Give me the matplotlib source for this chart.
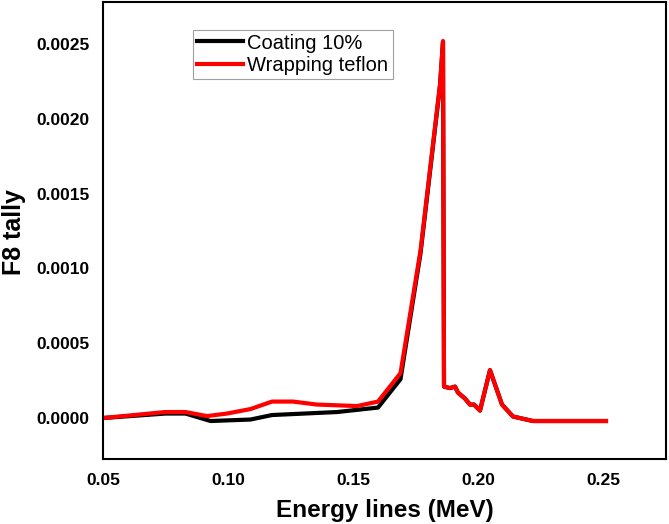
import matplotlib
matplotlib.use("Agg")
import matplotlib.pyplot as plt

plt.rcParams['font.family'] = ['Liberation Sans', 'DejaVu Sans']

# Coating 10% (black)
coat_x = [0.05, 0.075, 0.083, 0.093, 0.109, 0.1176, 0.1436, 0.16, 0.169, 0.177, 0.1848, 0.186,
          0.1864, 0.1888, 0.1908, 0.192, 0.1948, 0.1968, 0.1984, 0.2008, 0.2048, 0.2096, 0.214,
          0.222, 0.2512]
coat_y = [0.0, 0.00003, 0.00003, -0.00002, -0.00001, 0.00002, 0.00004, 0.00007, 0.00026, 0.00110,
          0.00222, 0.00251, 0.00021, 0.0002, 0.00021, 0.00017, 0.00013, 0.00009, 0.00009, 0.00005,
          0.00032, 0.00009, 0.00001, -0.00002, -0.00002]

# Wrapping teflon (red)
wrap_x = [0.05, 0.0748, 0.083, 0.0916, 0.0996, 0.109, 0.1176, 0.126, 0.1356, 0.1516, 0.16, 0.169,
          0.177, 0.1848, 0.186, 0.1864, 0.1888, 0.1908, 0.192, 0.1948, 0.1968, 0.1984, 0.2008,
          0.2048, 0.2096, 0.214, 0.222, 0.2512]
wrap_y = [0.0, 0.00004, 0.00004, 0.000013, 0.00003, 0.00006, 0.00011, 0.00011, 0.00009, 0.00008,
          0.00011, 0.0003, 0.00112, 0.00223, 0.00252, 0.00021, 0.0002, 0.00021, 0.00017, 0.00013,
          0.00009, 0.00009, 0.00005, 0.00032, 0.00009, 0.00001, -0.00002, -0.00002]

x_ticks = [0.05, 0.10, 0.15, 0.20, 0.25]
y_ticks = [0.0, 0.0005, 0.0010, 0.0015, 0.0020, 0.0025]

fig = plt.figure(figsize=(6.69, 5.24), dpi=100)
ax = fig.add_axes([0.154, 0.124, 0.8415, 0.872])

ax.plot(coat_x, coat_y, color='black', lw=3, label='Coating 10%')
ax.plot(wrap_x, wrap_y, color='#ff0000', lw=3, label='Wrapping teflon')

ax.set_xlim(0.05, 0.2752)
ax.set_ylim(-0.000274, 0.00278)
ax.set_xticks(x_ticks)
ax.set_xticklabels([f"{v:.2f}" for v in x_ticks])
ax.set_yticks(y_ticks)
ax.set_yticklabels([f"{v:.4f}" for v in y_ticks])
ax.tick_params(length=0, pad=10, labelsize=12.5)
for lab in ax.get_xticklabels() + ax.get_yticklabels():
    lab.set_fontweight('bold')
for s in ax.spines.values():
    s.set_linewidth(1.5)

ax.set_xlabel('Energy lines (MeV)', fontsize=17.5, fontweight='bold', labelpad=8)
fig.text(14 / 669, 1 - 232 / 524, 'F8 tally', fontsize=18, fontweight='bold',
         rotation=90, ha='center', va='center')

leg = ax.legend(loc='upper left', bbox_to_anchor=(0.16, 0.94), fontsize=14.5,
                frameon=True, fancybox=False, edgecolor='#888888', handlelength=2.3,
                handletextpad=0.2, borderpad=0.2, labelspacing=0.15, borderaxespad=0)
leg.get_frame().set_linewidth(0.8)

fig.savefig('out.png', dpi=100)
